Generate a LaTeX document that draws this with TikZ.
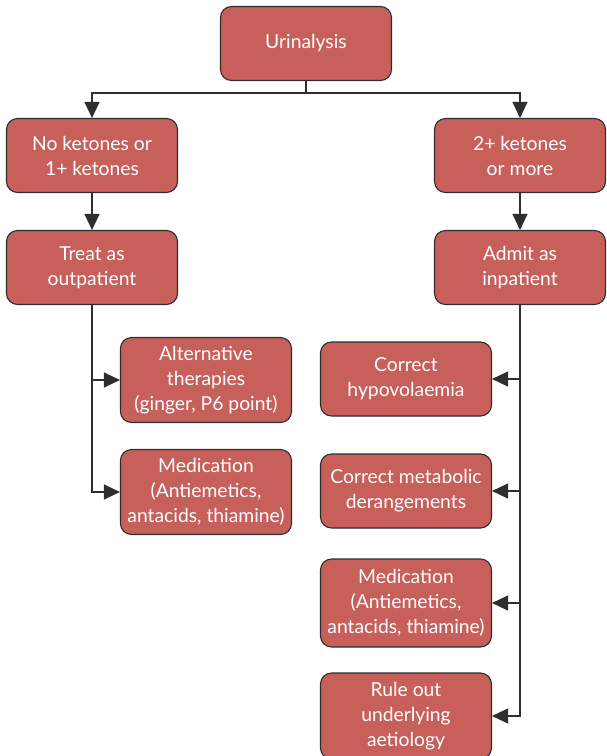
\documentclass[tikz,border=0pt]{standalone}
\usepackage{fontspec}
\setmainfont{Lato}
\usetikzlibrary{arrows.meta}
\definecolor{boxfill}{HTML}{C7605A}
\definecolor{boxline}{HTML}{2E2E2E}
\tikzset{
  box/.style={draw=boxline, line width=1.1pt, fill=boxfill, rounded corners=11pt,
    text=white, align=center, minimum width=171pt, inner sep=1pt,
    font=\fontsize{19.3}{25}\selectfont},
  arr/.style={draw=boxline, line width=1.2pt, -{Triangle[length=16pt,width=15pt]}},
  ln/.style={draw=boxline, line width=1.2pt}
}
\begin{document}
\begin{tikzpicture}[x=1pt,y=-1pt]
\useasboundingbox (0,0) rectangle (606,756);
\node[box, minimum height=74pt] (u) at (306,43.5) {Urinalysis};
\node[box, minimum height=74pt] (nk) at (92,155.5) {No ketones or\\1+ ketones};
\node[box, minimum height=74pt] (tk) at (520,155.5) {2+ ketones\\or more};
\node[box, minimum height=74pt] (tr) at (92,267.5) {Treat as\\outpatient};
\node[box, minimum height=74pt] (ad) at (520,267.5) {Admit as\\inpatient};
\node[box, minimum height=85pt] (alt) at (206,380) {Alternative\\therapies\\(ginger, P6 point)};
\node[box, minimum height=85pt] (medl) at (206,492) {Medication\\(Antiemetics,\\antacids, thiamine)};
\node[box, minimum height=74pt] (hy) at (406,379) {Correct\\hypovolaemia};
\node[box, minimum height=74pt] (met) at (406,491) {Correct metabolic\\derangements};
\node[box, minimum height=88pt] (medr) at (406,603) {Medication\\(Antiemetics,\\antacids, thiamine)};
\node[box, minimum height=86pt] (rule) at (406,716) {Rule out\\underlying\\aetiology};
\coordinate (split) at (306,93);
\draw[ln] (u.south) -- (split);
\draw[arr] (split) -| (nk.north);
\draw[arr] (split) -| (tk.north);
\draw[arr] (nk.south) -- (tr.north);
\draw[arr] (tk.south) -- (ad.north);
\draw[arr] (tr.south) |- (alt.west);
\draw[arr] (tr.south) |- (medl.west);
\draw[arr] (ad.south) |- (hy.east);
\draw[arr] (ad.south) |- (met.east);
\draw[arr] (ad.south) |- (medr.east);
\draw[arr] (ad.south) |- (rule.east);
\end{tikzpicture}
\end{document}
